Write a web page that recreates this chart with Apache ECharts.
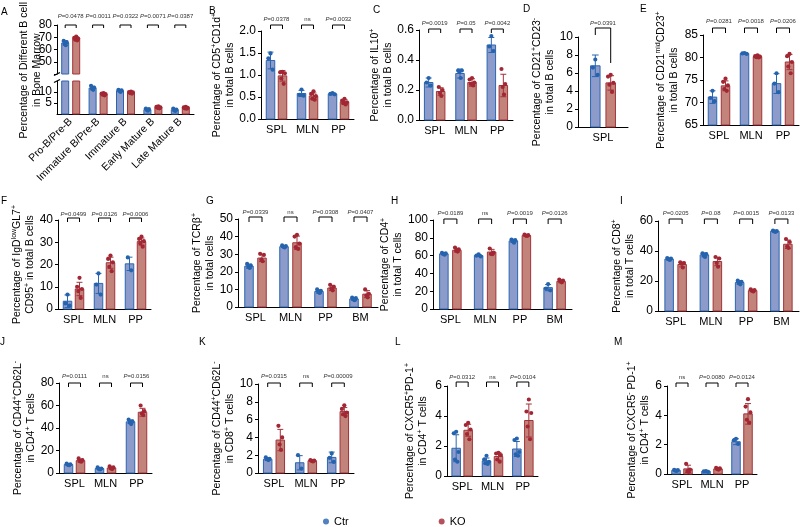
<!DOCTYPE html>
<html><head><meta charset="utf-8">
<script src="https://cdn.jsdelivr.net/npm/echarts@6/dist/echarts.min.js"></script>
<style>html,body{margin:0;padding:0;background:#fff}#c{width:800px;height:527px}</style>
</head><body><div id="c"></div>
<script>
// ---------------- DATA ----------------
const catsA = ['Pro-B/Pre-B','Immature B/Pre-B','Immature B','Early Mature B','Late Mature B'];
const cats3 = ['SPL','MLN','PP'];
const cats4 = ['SPL','MLN','PP','BM'];
const catsD = ['SPL'];

const A_ctr = [65.3, 11.8, 10.6, 2.0, 1.9];
const A_ctrSD = [1.8, 0.8, 0.5, 0.4, 0.5];
const A_ko = [69.0, 9.0, 9.8, 3.0, 2.8];
const A_koSD = [1.5, 0.5, 0.4, 0.4, 0.4];
const A_ctrPts = [[67,66,64.5,63.5],[12.8,12,11.5,11],[11,10.8,10.5,10],[2.5,2.2,1.8,1.5],[2.5,2.0,1.6,1.4]];
const A_koPts = [[70.5,69.5,69,68,67.5],[9.5,9.3,9,8.8,8.5],[10.2,10,9.8,9.5,9.3],[3.5,3.2,3,2.8,2.6],[3.3,3,2.8,2.6,2.4]];
const A_p = ['P=0.0478','P=0.0011','P=0.0322','P=0.0071','P=0.0387'];

const B_ctr = [1.33, 0.58, 0.57], B_ctrSD = [0.19, 0.07, 0.02];
const B_ko = [0.98, 0.52, 0.39], B_koSD = [0.12, 0.07, 0.05];
const B_ctrPts = [[1.49,1.38,1.12],[0.67,0.55,0.53],[0.59,0.57,0.56]];
const B_koPts = [[1.07,1.06,1.04,0.92,0.8],[0.63,0.57,0.52,0.46,0.44],[0.46,0.42,0.38,0.36,0.33]];
const B_p = ['P=0.0378','ns','P=0.0032'];

const C_ctr = [0.25, 0.31, 0.50], C_ctrSD = [0.03, 0.03, 0.05];
const C_ko = [0.19, 0.25, 0.23], C_koSD = [0.025, 0.025, 0.075];
const C_ctrPts = [[0.28,0.25,0.23],[0.33,0.33,0.32,0.28],[0.56,0.49,0.46]];
const C_koPts = [[0.22,0.2,0.18,0.16],[0.28,0.27,0.25,0.24,0.23],[0.34,0.24,0.22,0.17]];
const C_p = ['P=0.0019','P=0.05','P=0.0042'];

const D_ctr = [6.8], D_ctrSD = [1.2];
const D_ko = [4.9], D_koSD = [0.8];
const D_ctrPts = [[7.5,6.6,5.8]];
const D_koPts = [[5.8,5.6,4.9,4.7,3.9]];
const D_p = ['P=0.0391'];

const E_ctr = [71.2, 80.9, 74.2], E_ctrSD = [1.4, 0.1, 2.2];
const E_ko = [73.7, 80.2, 79.0], E_koSD = [1.1, 0.3, 1.7];
const E_ctrPts = [[72.6,71.0,70.3],[81.0,80.9,80.8],[76.5,74.2,72.3]];
const E_koPts = [[75.3,74.6,73.8,73.0,72.6],[80.5,80.3,80.2,80.1,80.0],[80.8,80.3,79.0,78.0,76.5]];
const E_p = ['P=0.0281','P=0.0018','P=0.0206'];

const F_ctr = [3.5, 11.5, 20.3], F_ctrSD = [2.8, 4.5, 3.0];
const F_ko = [9.0, 20.8, 30.3], F_koSD = [3.0, 2.5, 1.6];
const F_ctrPts = [[6.5,2.5,1.5],[16,11,6.5],[23.2,17.4]];
const F_koPts = [[14,10,9,8,5],[24,22.5,21,19,17],[32.5,31.5,30.5,29.5,28]];
const F_p = ['P=0.0499','P=0.0126','P=0.0006'];

const G_ctr = [23.2, 34.3, 8.8, 4.6], G_ctrSD = [1.2, 0.5, 0.9, 0.7];
const G_ko = [27.8, 36.5, 10.8, 7.3], G_koSD = [2.0, 3.8, 1.5, 2.0];
const G_ctrPts = [[24.5,23.5,22.8,22.2],[35,34.6,34.2,33.8],[10,9.2,8.5,8],[5.3,5,4.3,3.9]];
const G_koPts = [[30.2,29.6,27,26],[41,40,36,34,33],[12.6,11.5,10.5,9.5],[10,7.5,6.5,5.5]];
const G_p = ['P=0.0339','ns','P=0.0308','P=0.0407'];

const H_ctr = [62, 60, 76.5, 24], H_ctrSD = [1, 1.2, 1.8, 3.5];
const H_ko = [66, 64, 82.5, 31], H_koSD = [2, 3, 0.7, 1.5];
const H_ctrPts = [[63,62.5,61.8,61],[61.5,60,59],[78,77.3,76,74.5],[28,23,21]];
const H_koPts = [[69,67,65.5,64.5],[68,63.5,62,61.5],[83.5,83,82.5,82],[33,32,31,30]];
const H_p = ['P=0.0189','ns','P=0.0019','P=0.0126'];

const I_ctr = [34.6, 37.4, 19, 53.2], I_ctrSD = [0.7, 1.3, 1.2, 0.4];
const I_ko = [31, 33, 13.6, 44.5], I_koSD = [1.6, 2.8, 0.7, 2.8];
const I_ctrPts = [[35.3,35,34.5,34],[38.5,38,37,36],[20.2,19.5,18.5,17.8],[53.6,53.3,53,52.8]];
const I_koPts = [[32.5,32,31.5,29],[36,35,32,29.5],[14.5,14,13.5,13],[48,46,43,42]];
const I_p = ['P=0.0205','P=0.08','P=0.0015','P=0.0133'];

const J_ctr = [7.5, 4, 45.5], J_ctrSD = [0.6, 0.8, 1.6];
const J_ko = [11, 4.5, 54], J_koSD = [1.3, 1.0, 3.5];
const J_ctrPts = [[8.3,7.8,7.3,7],[5,4,3.5,3.2],[47.5,46,45,43.5]];
const J_koPts = [[13,11.5,10.5,10],[6,5,4,3.5],[60,55,53,51.5]];
const J_p = ['P=0.0111','ns','P=0.0156'];

const K_ctr = [1.55, 1.15, 1.75], K_ctrSD = [0.15, 0.8, 0.6];
const K_ko = [3.7, 1.38, 6.9], K_koSD = [1.2, 0.07, 0.45];
const K_ctrPts = [[1.75,1.6,1.55,1.45],[2.0,0.5],[2.2,1.7,1.25]];
const K_koPts = [[5.3,4.0,3.2,2.6],[1.45,1.4,1.35,1.3],[7.6,7.2,6.8,6.6,6.4]];
const K_p = ['P=0.0315','ns','P=0.00009'];

const L_ctr = [1.85, 1.0, 1.8], L_ctrSD = [0.9, 0.2, 0.5];
const L_ko = [3.05, 1.3, 3.7], L_koSD = [0.4, 0.25, 1.1];
const L_ctrPts = [[2.95,2.85,1.6,1.1,0.95],[1.35,1.1,0.95,0.85,0.8],[2.5,2.4,1.6,1.45,1.35]];
const L_koPts = [[3.55,3.4,3.1,2.8,2.45],[1.55,1.5,1.4,1.1,0.95],[5.1,4.3,4.2,3.3,2.45]];
const L_p = ['P=0.0312','ns','P=0.0104'];

const M_ctr = [0.25, 0.18, 2.2], M_ctrSD = [0.04, 0.03, 0.2];
const M_ko = [0.35, 0.35, 4.1], M_koSD = [0.25, 0.05, 0.7];
const M_ctrPts = [[0.28,0.26,0.23,0.21],[0.2,0.18,0.15],[2.4,2.3,2.05]];
const M_koPts = [[0.7,0.3,0.2,0.15],[0.42,0.38,0.33,0.3],[5.1,4.6,4.2,3.7,3.5]];
const M_p = ['ns','P=0.0080','P=0.0124'];

const groupNames = ['Ctr','KO'];

// ---------------- STYLE ----------------
const FONT = 'Arial, "Liberation Sans", Helvetica, sans-serif';
const CTR = {fill:'#8D9BCB', line:'#2A66B0', dot:'#2563AE'};
const KO = {fill:'#C2847A', line:'#A3323A', dot:'#A22633'};
const RICH = {
  n:{fontSize:10.5, lineHeight:13, fontFamily:FONT, color:'#000'},
  s:{fontSize:7, lineHeight:6, verticalAlign:'top', fontFamily:FONT, color:'#000'}
};
const JIT = {1:[0],2:[-0.2,0.2],3:[0,-0.25,0.25],4:[-0.22,0.22,-0.08,0.08],5:[0,-0.28,0.28,-0.14,0.14]};

const option = {
  animation:false, backgroundColor:'#fff', textStyle:{fontFamily:FONT},
  grid:[], xAxis:[], yAxis:[], series:[], graphic:[],
  legend:{data:[{name:groupNames[0],icon:'circle'},{name:groupNames[1],icon:'circle'}],
    left:318, top:511, itemWidth:6, itemHeight:6, itemGap:90,
    textStyle:{fontSize:11, color:'#000', fontFamily:FONT}, selectedMode:false}
};

function makeRender(c){
  return function(params, api){
    const i = api.value(0);
    const cs = params.coordSys;
    const bottom = cs.y + cs.height;
    const clampY = v => api.coord([i, Math.max(c.yMin, Math.min(c.yMax, v))])[1];
    const inR = v => v >= c.yMin - 1e-9 && v <= c.yMax + 1e-9;
    const cx = api.coord([i, c.yMin])[0];
    const kids = [];
    const gs = [[c.ctr, c.ctrSD, c.ctrPts, CTR, -1],[c.ko, c.koSD, c.koPts, KO, 1]];
    gs.forEach(([m, sd, pts, col, s]) => {
      const bx = cx + s*c.off;
      if (m[i] > c.yMin) {
        const t = clampY(m[i]);
        kids.push({type:'rect', shape:{x:bx-c.bw/2, y:t, width:c.bw, height:bottom-t},
          style:{fill:col.fill, stroke:col.line, lineWidth:1}});
      }
    });
    gs.forEach(([m, sd, pts, col, s]) => {
      const bx = cx + s*c.off;
      const hi = m[i]+sd[i], lo = m[i]-sd[i];
      if (hi > c.yMin && lo < c.yMax) {
        kids.push({type:'line', shape:{x1:bx, y1:clampY(lo), x2:bx, y2:clampY(hi)}, style:{stroke:col.line, lineWidth:1}});
        const cw = c.bw*0.35;
        if (inR(hi)) kids.push({type:'line', shape:{x1:bx-cw, y1:clampY(hi), x2:bx+cw, y2:clampY(hi)}, style:{stroke:col.line, lineWidth:1}});
        if (inR(lo)) kids.push({type:'line', shape:{x1:bx-cw, y1:clampY(lo), x2:bx+cw, y2:clampY(lo)}, style:{stroke:col.line, lineWidth:1}});
      }
      const jit = JIT[pts[i].length] || JIT[5];
      pts[i].forEach((v, k) => {
        if (inR(v)) kids.push({type:'circle', shape:{cx:bx + jit[k % jit.length]*c.bw, cy:api.coord([i, v])[1], r:2.1}, style:{fill:col.dot}});
      });
    });
    if (c.p) {
      const x1 = cx - c.off, x2 = cx + c.off, yb = cs.y + c.brDy;
      kids.push({type:'polyline', shape:{points:[[x1, yb + c.brLeg],[x1, yb],[x2, yb],[x2, yb + (c.brLegR || c.brLeg)]]},
        style:{stroke:'#000', lineWidth:1, fill:'none'}});
      const t = c.p[i];
      const txt = t.charAt(0) === 'P' ? '{i|P}' + t.slice(1) : t;
      kids.push({type:'text', style:{text:txt, x:cx, y:cs.y + c.txDy, align:'center', verticalAlign:'middle',
        fontSize:6, fontFamily:FONT, fill:'#333',
        rich:{i:{fontStyle:'italic', fontSize:6, fontFamily:FONT, fill:'#333', color:'#333'}}}});
    }
    if (c.breakTop && i === 0) {
      const x = cs.x;
      [cs.y, cs.y - 7].forEach(y => kids.push({type:'line', shape:{x1:x-3, y1:y+1.5, x2:x+3, y2:y-1.5}, style:{stroke:'#000', lineWidth:1.3}}));
    }
    return {type:'group', children:kids};
  };
}

function addPanel(c){
  const g = option.grid.length;
  option.grid.push({left:c.box[0], top:c.box[1], width:c.box[2], height:c.box[3]});
  option.xAxis.push({type:'category', gridIndex:g, data:c.cats, show:c.showX !== false,
    axisLine:{lineStyle:{color:'#000', width:1}},
    axisTick:{alignWithLabel:true, length:3, lineStyle:{color:'#000'}},
    axisLabel:{color:'#000', fontSize:c.xfs || 11, margin:c.xMargin || 5, rotate:c.rot || 0, interval:0, fontFamily:FONT}});
  option.yAxis.push({type:'value', gridIndex:g, min:c.yMin, max:c.yMax, interval:c.yInt,
    axisLine:{show:true, lineStyle:{color:'#000', width:1}},
    axisTick:{show:true, length:3, lineStyle:{color:'#000'}},
    splitLine:{show:false},
    axisLabel:{color:'#000', fontSize:12, margin:5, fontFamily:FONT, formatter:c.fmt || (v => String(v))},
    name:c.name || '', nameLocation:'middle', nameGap:c.nameGap || 15, nameTextStyle:{rich:RICH, color:'#000'}});
  option.series.push({type:'custom', xAxisIndex:g, yAxisIndex:g, silent:true, clip:false,
    data:c.cats.map((_, i) => [i, c.yMin]), encode:{x:0, y:1}, renderItem:makeRender(c)});
}

const f1 = v => v.toFixed(1);

// Panel A : broken axis (upper + lower), plus title-only axis
addPanel({box:[57,25,137,49], cats:catsA, showX:false, yMin:40, yMax:80, yInt:10, fmt:v => v === 40 ? '' : String(v),
  ctr:A_ctr, ctrSD:A_ctrSD, ko:A_ko, koSD:A_koSD, ctrPts:A_ctrPts, koPts:A_koPts, p:A_p,
  bw:7, off:5.5, brDy:0, brLeg:3, txDy:-9});
addPanel({box:[57,81,137,33], cats:catsA, rot:45, xfs:10.5, xMargin:6, yMin:0, yMax:15, yInt:5,
  ctr:A_ctr, ctrSD:A_ctrSD, ko:A_ko, koSD:A_koSD, ctrPts:A_ctrPts, koPts:A_koPts,
  bw:7, off:5.5, breakTop:true});
(function(){
  const g = option.grid.length;
  option.grid.push({left:57, top:25, width:137, height:89});
  option.xAxis.push({type:'category', gridIndex:g, data:catsA, show:false});
  option.yAxis.push({type:'value', gridIndex:g, min:0, max:1, axisLine:{show:false}, axisTick:{show:false},
    axisLabel:{show:false}, splitLine:{show:false},
    name:'{n|Percentage of Different B cell}\n{n|in Bone Marrow}', nameLocation:'middle', nameGap:13,
    nameTextStyle:{rich:RICH, color:'#000'}});
})();

addPanel({box:[261,31,93,88], cats:cats3, yMin:0, yMax:2, yInt:0.5, fmt:f1, nameGap:21,
  name:'{n|Percentage of CD5}{s|+}{n|CD1d}{s|+}\n{n|in total B cells}',
  ctr:B_ctr, ctrSD:B_ctrSD, ko:B_ko, koSD:B_koSD, ctrPts:B_ctrPts, koPts:B_koPts, p:B_p,
  bw:8.5, off:6, brDy:-6, brLeg:4, txDy:-12});
addPanel({box:[419,30,94,90], cats:cats3, yMin:0, yMax:0.6, yInt:0.2, fmt:f1, nameGap:19,
  name:'{n|Percentage of IL10}{s|+}\n{n|in total B cells}',
  ctr:C_ctr, ctrSD:C_ctrSD, ko:C_ko, koSD:C_koSD, ctrPts:C_ctrPts, koPts:C_koPts, p:C_p,
  bw:8.5, off:6, brDy:-1, brLeg:4, txDy:-7});
addPanel({box:[578,37,50,90], cats:catsD, yMin:0, yMax:10, yInt:2, nameGap:14,
  name:'{n|Percentage of CD21}{s|+}{n|CD23}{s|-}\n{n|in total B cells}',
  ctr:D_ctr, ctrSD:D_ctrSD, ko:D_ko, koSD:D_koSD, ctrPts:D_ctrPts, koPts:D_koPts, p:D_p,
  bw:9.5, off:7.7, brDy:-9, brLeg:7, brLegR:35, txDy:-14});
addPanel({box:[703,35,96,90], cats:cats3, yMin:65, yMax:85, yInt:5, nameGap:22,
  name:'{n|Percentage of CD21}{s|mid}{n|CD23}{s|+}\n{n|in total B cells}',
  ctr:E_ctr, ctrSD:E_ctrSD, ko:E_ko, koSD:E_koSD, ctrPts:E_ctrPts, koPts:E_koPts, p:E_p,
  bw:8.5, off:6.5, brDy:-7, brLeg:5, txDy:-14});

addPanel({box:[58,220,93,89], cats:cats3, yMin:0, yMax:40, yInt:10, nameGap:16,
  name:'{n|Percentage of IgD}{s|low}{n|GL7}{s|+}\n{n|CD95}{s|+}{n| in total B cells}',
  ctr:F_ctr, ctrSD:F_ctrSD, ko:F_ko, koSD:F_koSD, ctrPts:F_ctrPts, koPts:F_koPts, p:F_p,
  bw:8.5, off:6, brDy:-2, brLeg:4, txDy:-6});
addPanel({box:[238,219,140,88], cats:cats4, yMin:0, yMax:50, yInt:10, nameGap:16,
  name:'{n|Percentage of TCRβ}{s|+}\n{n|in total cells}',
  ctr:G_ctr, ctrSD:G_ctrSD, ko:G_ko, koSD:G_koSD, ctrPts:G_ctrPts, koPts:G_koPts, p:G_p,
  bw:8.5, off:6.5, brDy:-2, brLeg:5, txDy:-7});
addPanel({box:[433,220,139,89], cats:cats4, yMin:0, yMax:100, yInt:20, nameGap:17,
  name:'{n|Percentage of CD4}{s|+}\n{n|in total T cells}',
  ctr:H_ctr, ctrSD:H_ctrSD, ko:H_ko, koSD:H_koSD, ctrPts:H_ctrPts, koPts:H_koPts, p:H_p,
  bw:8.5, off:6.5, brDy:-1, brLeg:5, txDy:-7});
addPanel({box:[658,221,141,90], cats:cats4, yMin:0, yMax:60, yInt:20, nameGap:16,
  name:'{n|Percentage of CD8}{s|+}\n{n|in total T cells}',
  ctr:I_ctr, ctrSD:I_ctrSD, ko:I_ko, koSD:I_koSD, ctrPts:I_ctrPts, koPts:I_koPts, p:I_p,
  bw:8.5, off:6.5, brDy:-2, brLeg:5, txDy:-8});

addPanel({box:[59,383,93,90], cats:cats3, yMin:0, yMax:80, yInt:20, nameGap:15,
  name:'{n|Percentage of CD44}{s|+}{n|CD62L}{s|-}\n{n|in CD4}{s|+}{n| T cells}',
  ctr:J_ctr, ctrSD:J_ctrSD, ko:J_ko, koSD:J_koSD, ctrPts:J_ctrPts, koPts:J_koPts, p:J_p,
  bw:8.5, off:6, brDy:0, brLeg:4, txDy:-7});
addPanel({box:[258,384,96,89], cats:cats3, yMin:0, yMax:10, yInt:2, nameGap:11,
  name:'{n|Percentage of CD44}{s|+}{n|CD62L}{s|-}\n{n|in CD8}{s|+}{n| T cells}',
  ctr:K_ctr, ctrSD:K_ctrSD, ko:K_ko, koSD:K_koSD, ctrPts:K_ctrPts, koPts:K_koPts, p:K_p,
  bw:8.5, off:6.3, brDy:-1, brLeg:4, txDy:-8});
addPanel({box:[447,386,91,90], cats:cats3, yMin:0, yMax:6, yInt:2, nameGap:17,
  name:'{n|Percentage of CXCR5}{s|+}{n|PD-1}{s|+}\n{n|in CD4}{s|+}{n| T cells}',
  ctr:L_ctr, ctrSD:L_ctrSD, ko:L_ko, koSD:L_koSD, ctrPts:L_ctrPts, koPts:L_koPts, p:L_p,
  bw:8.5, off:6, brDy:-4, brLeg:5, txDy:-9});
addPanel({box:[667,386,90,88], cats:cats3, yMin:0, yMax:6, yInt:2, nameGap:15,
  name:'{n|Percentage of CXCR5}{s|-}{n| PD-1}{s|+}\n{n|in CD4}{s|+}{n| T cells}',
  ctr:M_ctr, ctrSD:M_ctrSD, ko:M_ko, koSD:M_koSD, ctrPts:M_ctrPts, koPts:M_koPts, p:M_p,
  bw:8.5, off:6, brDy:-3, brLeg:4, txDy:-9});

// legend dummy series
option.series.push({type:'scatter', name:groupNames[0], xAxisIndex:1, yAxisIndex:1, data:[], itemStyle:{color:CTR.dot}});
option.series.push({type:'scatter', name:groupNames[1], xAxisIndex:1, yAxisIndex:1, data:[], itemStyle:{color:KO.dot}});

// panel letters
const letters = [['A',1,7],['B',209,6],['C',373,5],['D',523,4],['E',640,4],['F',1,196],['G',206,196],['H',391,196],['I',620,196],['J',0,337],['K',199,337],['L',395,337],['M',614,337]];
letters.forEach(([t, x, y]) => option.graphic.push({type:'text', left:x, top:y, silent:true,
  style:{text:t, fontSize:10, fontFamily:FONT, fill:'#000'}}));

const chart = echarts.init(document.getElementById('c'), null, {renderer:'canvas'});
chart.setOption(option);
</script></body></html>
